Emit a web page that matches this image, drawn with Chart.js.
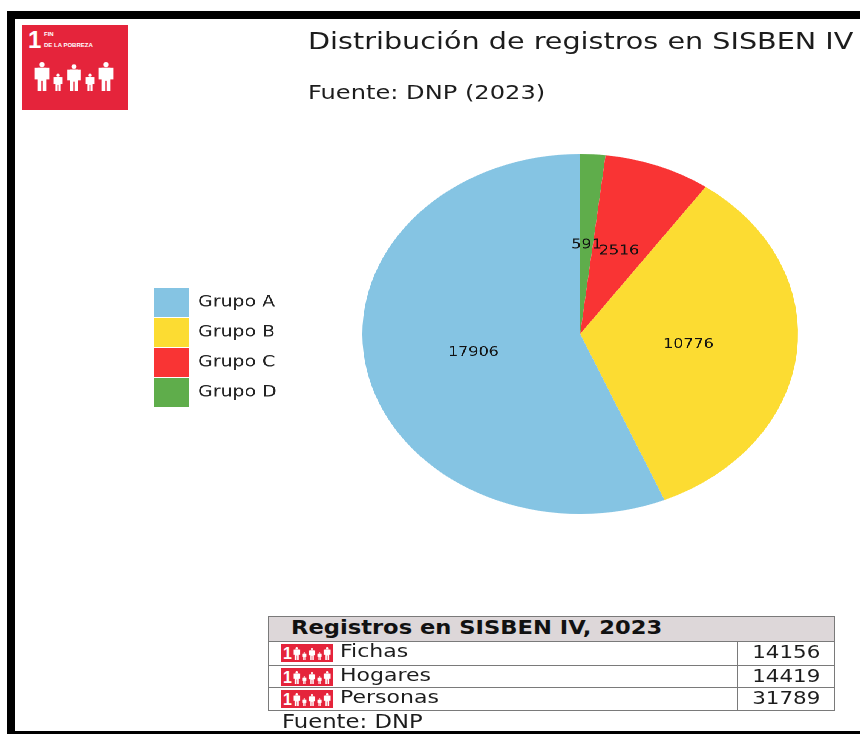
<!DOCTYPE html>
<html><head><meta charset="utf-8">
<script src="https://cdn.jsdelivr.net/npm/chart.js@4"></script>
<style>
html,body{margin:0;padding:0;background:#fff;overflow:hidden}
#page{position:relative;width:860px;height:734px;font-family:"DejaVu Sans",sans-serif;color:#1c1c1c;overflow:hidden;filter:blur(.35px)}
.bar{position:absolute;background:#000}
.t{position:absolute;white-space:nowrap;transform-origin:left center;line-height:1}
.r{transform-origin:right center}
#cw{position:absolute;left:0;top:0;width:711px;height:734px;transform:scaleX(1.21);transform-origin:left top}
.cell{position:absolute;box-sizing:border-box;border:1.5px solid #7a7a7a}
svg{position:absolute}
</style></head><body>
<div id="page">
<div id="cw"><canvas id="c" width="711" height="734"></canvas></div>
<div class="bar" style="left:7px;top:11px;width:853px;height:8px"></div>
<div class="bar" style="left:7px;top:11px;width:8px;height:723px"></div>
<div class="bar" style="left:7px;top:731px;width:853px;height:3px"></div>
<div id="extras"></div>
</div>
<script>
const categories = ['Grupo D','Grupo C','Grupo B','Grupo A'];
const seriesValues = [591,2516,10776,17906];
const sliceColors = ['#5FAD4B','#F93434','#FCDC32','#85C4E3'];
const chartTitle = 'Distribución de registros en SISBEN IV';
const chartSource = 'Fuente: DNP (2023)';
const tableTitle = 'Registros en SISBEN IV, 2023';
const tableRows = ['Fichas','Hogares','Personas'];
const tableValues = [14156,14419,31789];
const tableSource = 'Fuente: DNP';

const sliceLabels = {
  id:'sliceLabels',
  afterDatasetsDraw(chart){
    const ctx=chart.ctx, meta=chart.getDatasetMeta(0);
    ctx.save();
    ctx.font='13.2px "DejaVu Sans"';
    ctx.fillStyle='#111';
    ctx.textAlign='center';ctx.textBaseline='middle';
    meta.data.forEach((arc,i)=>{
      const p=arc.tooltipPosition();
      ctx.fillText(String(seriesValues[i]),p.x,p.y+1);
    });
    ctx.restore();
  }
};
const placeLegend = {
  id:'placeLegend',
  afterLayout(chart){
    const l=chart.legend;
    l.left=126;l.right=300;l.top=287;l.bottom=420;
  }
};
new Chart(document.getElementById('c'),{
  type:'pie',
  data:{labels:categories,datasets:[{data:seriesValues,backgroundColor:sliceColors,borderWidth:0}]},
  options:{
    responsive:false,animation:false,devicePixelRatio:2,
    layout:{padding:{left:299.5,right:51.5,top:154,bottom:220}},
    plugins:{
      tooltip:{enabled:false},
      legend:{position:'chartArea',align:'start',reverse:true,
        labels:{boxWidth:29,boxHeight:29,padding:1,color:'#222',font:{family:'"DejaVu Sans"',size:15.6}}}
    }
  },
  plugins:[sliceLabels,placeLegend]
});

const ex=document.getElementById('extras');
function text(s,x,y,size,sx,extra){
  const d=document.createElement('div');
  d.className='t';d.textContent=s;
  d.style.cssText=`left:${x}px;top:${y}px;font-size:${size}px;transform:scaleX(${sx});`+(extra||'');
  ex.appendChild(d);return d;
}
function people(x,y,w,h){
  let s='';
  const xs=[.1,.3,.5,.7,.9], hs=[1,.6,.92,.6,1];
  xs.forEach((fx,i)=>{
    const ph=hs[i]*h, cx=fx*w, top=h-ph, bw=ph*.3;
    s+=`<circle cx="${cx}" cy="${top+ph*.09}" r="${ph*.09}"/><rect x="${cx-bw/2}" y="${top+ph*.2}" width="${bw}" height="${ph*.8}"/><rect x="${cx-bw*.85}" y="${top+ph*.2}" width="${bw*1.7}" height="${ph*.4}"/><rect x="${cx-ph*.025}" y="${top+ph*.65}" width="${ph*.05}" height="${ph*.35}" fill="#E5243B"/>`;
  });
  return `<g transform="translate(${x} ${y})" fill="#fff">${s}</g>`;
}
function svg(x,y,w,h,inner){
  ex.insertAdjacentHTML('beforeend',`<svg style="left:${x}px;top:${y}px" width="${w}" height="${h}" viewBox="0 0 ${w} ${h}">${inner}</svg>`);
}
svg(22,25,106,85,`<rect width="106" height="85" fill="#E5243B"/>
<text x="6" y="23" font-family="Liberation Sans" font-weight="bold" font-size="24" fill="#fff">1</text>
<text x="22" y="11" font-family="Liberation Sans" font-weight="bold" font-size="6" fill="#fff">FIN</text>
<text x="22" y="22" font-family="Liberation Sans" font-weight="bold" font-size="6" fill="#fff">DE LA POBREZA</text>
${people(12,37,80,29)}`);

text(chartTitle,308,30,22.5,1.273);
text(chartSource,308,83,19,1.27);

function cell(x,y,w,h,bg){
  const d=document.createElement('div');d.className='cell';
  d.style.cssText=`left:${x}px;top:${y}px;width:${w}px;height:${h}px;`+(bg?`background:${bg};`:'');
  ex.appendChild(d);
}
cell(268,616,567,26,'#DDD7D9');
text(tableTitle,291,619,18.7,1.21,'font-weight:bold;color:#111');
const rowY=[641,665,687], rowH=[25,23,24];
tableRows.forEach((name,i)=>{
  cell(268,rowY[i],470,rowH[i]);
  cell(737,rowY[i],98,rowH[i]);
  svg(281,rowY[i]+3,52,18,`<rect width="52" height="18" fill="#E5243B"/><text x="2" y="15" font-family="Liberation Sans" font-weight="bold" font-size="16" fill="#fff">1</text>${people(12,3,38,13)}`);
  text(name,340,rowY[i]+1,18.2,1.21);
  const v=text(String(tableValues[i]),0,rowY[i]+3,17.7,1.21,'left:auto;right:40px;');
  v.classList.add('r');
});
text(tableSource,282,713,18.8,1.21);
</script>
</body></html>
